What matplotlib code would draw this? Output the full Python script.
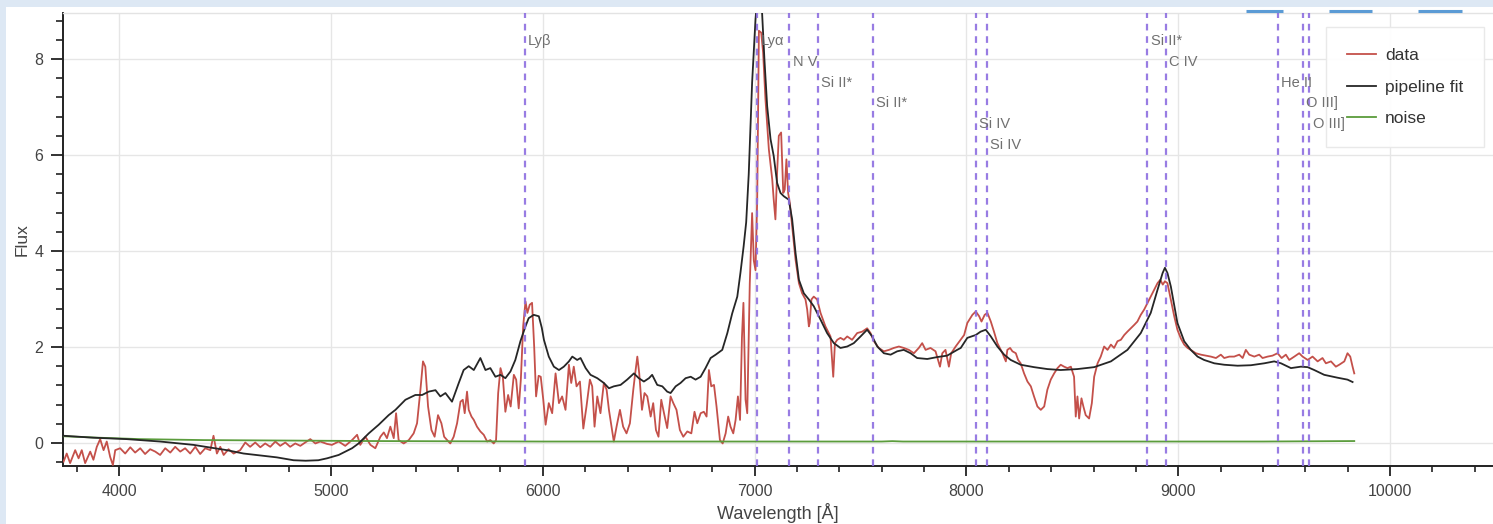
import matplotlib
matplotlib.use("Agg")
import matplotlib.pyplot as plt
from matplotlib.ticker import MultipleLocator
from matplotlib.patches import Rectangle
from matplotlib.lines import Line2D

plt.rcParams['font.family'] = ['Liberation Sans', 'DejaVu Sans']

# ---------------- data ----------------
data_wave = [3737, 3752, 3768, 3792, 3808, 3823, 3839, 3863, 3878, 3894, 3910, 3926, 3941, 3957, 3970, 3981,
             4004, 4028, 4052, 4075, 4099, 4122, 4146, 4170, 4193, 4217, 4241, 4264, 4288, 4311, 4335, 4359,
             4382, 4406, 4430, 4445, 4461, 4477, 4493, 4516, 4540, 4571, 4595, 4618, 4642, 4666, 4689, 4713,
             4737, 4760, 4784, 4807, 4831, 4855, 4878, 4902, 4926, 4949, 4981, 5004, 5036, 5067, 5099, 5123,
             5138, 5162, 5186, 5209, 5233, 5249, 5264, 5280, 5296, 5307, 5319, 5343, 5367, 5390, 5406, 5422,
             5434, 5445, 5458, 5474, 5489, 5505, 5521, 5534, 5548, 5563, 5579, 5595, 5611, 5622, 5631, 5642,
             5650, 5663, 5674, 5689, 5705, 5721, 5737, 5752, 5768, 5779, 5789, 5800, 5811, 5823, 5836, 5848,
             5863, 5874, 5886, 5896, 5907, 5918, 5927, 5938, 5949, 5959, 5968, 5980, 5990, 6002, 6013, 6028,
             6044, 6060, 6076, 6091, 6107, 6123, 6134, 6146, 6159, 6175, 6191, 6206, 6222, 6233, 6244, 6257,
             6272, 6288, 6301, 6312, 6324, 6335, 6348, 6364, 6379, 6395, 6411, 6427, 6436, 6446, 6455, 6468,
             6480, 6493, 6509, 6521, 6534, 6546, 6559, 6572, 6587, 6603, 6616, 6631, 6647, 6663, 6682, 6701,
             6716, 6729, 6745, 6760, 6773, 6784, 6795, 6808, 6820, 6836, 6849, 6863, 6875, 6886, 6899, 6910,
             6921, 6931, 6940, 6947, 6957, 6965, 6977, 6988, 6996, 7004, 7012, 7020, 7031, 7040, 7051, 7067,
             7083, 7090, 7098, 7106, 7114, 7125, 7135, 7142, 7150, 7158, 7166, 7177, 7193, 7209, 7224, 7240,
             7248, 7256, 7260, 7268, 7279, 7295, 7311, 7334, 7358, 7371, 7379, 7390, 7405, 7421, 7437, 7460,
             7484, 7508, 7531, 7547, 7563, 7586, 7610, 7634, 7657, 7681, 7704, 7728, 7752, 7775, 7791, 7807,
             7830, 7854, 7875, 7886, 7901, 7917, 7928, 7949, 7972, 7989, 8004, 8028, 8044, 8060, 8071, 8086,
             8099, 8115, 8130, 8146, 8170, 8186, 8193, 8206, 8217, 8233, 8244, 8256, 8272, 8288, 8304, 8319,
             8335, 8351, 8367, 8382, 8398, 8414, 8430, 8445, 8461, 8477, 8493, 8508, 8516, 8524, 8532, 8543,
             8552, 8563, 8579, 8592, 8603, 8619, 8634, 8650, 8666, 8682, 8697, 8713, 8729, 8745, 8760, 8776,
             8792, 8807, 8823, 8839, 8855, 8870, 8886, 8902, 8915, 8927, 8937, 8949, 8965, 8981, 8996, 9012,
             9028, 9044, 9059, 9083, 9107, 9130, 9154, 9178, 9201, 9217, 9241, 9264, 9288, 9304, 9319, 9335,
             9359, 9382, 9398, 9422, 9445, 9469, 9488, 9508, 9524, 9548, 9571, 9587, 9611, 9634, 9658, 9681,
             9697, 9721, 9744, 9760, 9784, 9799, 9812, 9823, 9831]
data_flux = [-0.39, -0.22, -0.42, -0.15, -0.32, -0.15, -0.42, -0.18, -0.35, -0.08, 0.08, -0.15, 0.03, -0.29, -0.46, -0.15,
             -0.11, -0.22, -0.09, -0.20, -0.11, -0.23, -0.13, -0.18, -0.25, -0.11, -0.20, -0.08, -0.18, -0.11, -0.22, -0.08,
             -0.23, -0.11, -0.15, 0.15, -0.22, -0.08, -0.25, -0.13, -0.22, -0.15, 0.01, -0.08, 0.01, -0.09, -0.01, -0.08,
             0.03, -0.06, 0.01, -0.08, -0.01, -0.06, 0.01, 0.08, -0.01, 0.03, -0.02, -0.04, 0.03, -0.06, 0.06, 0.17,
             -0.04, 0.13, -0.04, -0.11, 0.13, 0.22, 0.10, 0.34, 0.10, 0.62, 0.06, -0.01, 0.06, 0.20, 0.41, 1.11,
             1.70, 1.59, 0.76, 0.27, 0.13, 0.58, 0.41, 0.13, 0.06, -0.01, 0.13, 0.41, 0.86, 0.90, 0.62, 1.07,
             0.69, 0.55, 0.48, 0.34, 0.24, 0.17, 0.03, 0.06, -0.01, 0.06, 1.04, 1.56, 1.38, 0.65, 1.00, 0.76,
             1.42, 1.32, 0.72, 1.32, 2.43, 2.95, 2.71, 2.88, 2.92, 2.01, 0.97, 1.40, 1.38, 0.90, 0.38, 0.83,
             0.62, 1.45, 0.83, 0.97, 0.69, 1.63, 1.25, 1.59, 1.18, 1.28, 0.30, 0.76, 1.32, 1.18, 0.34, 0.97,
             0.62, 1.25, 1.11, 0.69, 0.34, 0.03, 0.34, 0.69, 0.34, 0.20, 0.41, 1.11, 1.45, 1.80, 1.45, 0.69,
             1.04, 0.97, 0.55, 0.83, 0.27, 0.13, 0.90, 0.62, 0.31, 0.97, 0.83, 0.69, 0.27, 0.13, 0.24, 0.20,
             0.65, 0.41, 0.62, 0.65, 0.55, 1.52, 1.18, 1.21, 0.76, 0.06, -0.01, 0.20, 0.55, 0.34, 0.20, 0.48,
             0.97, 0.48, 2.20, 2.92, 0.90, 0.62, 3.33, 4.79, 3.80, 3.60, 5.07, 8.59, 8.55, 8.13, 7.16, 6.12,
             5.49, 5.07, 4.66, 5.63, 6.40, 6.47, 5.21, 5.28, 5.91, 5.21, 5.00, 4.52, 3.82, 3.33, 3.12, 2.99,
             2.78, 2.43, 2.50, 2.99, 3.05, 2.99, 2.71, 2.43, 2.22, 1.38, 2.08, 2.15, 2.19, 2.15, 2.22, 2.15,
             2.29, 2.32, 2.39, 2.29, 2.12, 1.98, 1.91, 1.94, 1.98, 2.01, 1.98, 1.94, 1.87, 1.98, 2.08, 1.94,
             1.98, 1.91, 1.59, 1.87, 1.94, 1.59, 1.87, 2.01, 2.15, 2.25, 2.50, 2.67, 2.74, 2.64, 2.53, 2.67,
             2.71, 2.53, 2.32, 2.08, 1.87, 1.70, 1.94, 1.98, 1.91, 1.87, 1.73, 1.66, 1.45, 1.28, 1.18, 0.97,
             0.76, 0.69, 0.76, 1.11, 1.32, 1.45, 1.56, 1.63, 1.59, 1.56, 1.59, 1.38, 0.55, 0.97, 0.51, 0.93,
             0.76, 0.58, 0.51, 0.83, 1.38, 1.66, 1.80, 2.01, 1.94, 2.05, 1.98, 2.12, 2.15, 2.25, 2.32, 2.39,
             2.46, 2.53, 2.67, 2.78, 2.92, 3.05, 3.19, 3.33, 3.40, 3.30, 3.37, 3.33, 2.99, 2.64, 2.36, 2.18,
             2.05, 1.98, 1.94, 1.87, 1.84, 1.82, 1.80, 1.77, 1.84, 1.77, 1.80, 1.80, 1.84, 1.77, 1.94, 1.84,
             1.80, 1.84, 1.77, 1.80, 1.82, 1.87, 1.77, 1.84, 1.73, 1.80, 1.87, 1.80, 1.73, 1.80, 1.70, 1.77,
             1.66, 1.70, 1.59, 1.63, 1.70, 1.87, 1.80, 1.59, 1.45]

fit_wave = [3737, 3878, 4036, 4193, 4351, 4508, 4587, 4666, 4744, 4823, 4880, 4940, 4981, 5036, 5099, 5130,
            5178, 5225, 5272, 5304, 5351, 5398, 5430, 5461, 5493, 5516, 5540, 5571, 5603, 5626, 5650, 5674,
            5705, 5729, 5752, 5776, 5800, 5823, 5847, 5870, 5894, 5918, 5933, 5957, 5981, 5995, 6005, 6028,
            6052, 6076, 6099, 6123, 6139, 6162, 6178, 6202, 6225, 6257, 6288, 6312, 6335, 6367, 6398, 6430,
            6453, 6477, 6501, 6516, 6540, 6564, 6587, 6603, 6627, 6650, 6674, 6698, 6721, 6745, 6768, 6792,
            6816, 6847, 6871, 6894, 6918, 6933, 6948, 6960, 6972, 6988, 7004, 7015, 7027, 7035, 7046, 7059,
            7075, 7090, 7106, 7122, 7138, 7161, 7177, 7193, 7209, 7232, 7256, 7279, 7311, 7342, 7374, 7405,
            7437, 7468, 7500, 7531, 7555, 7579, 7610, 7642, 7673, 7704, 7736, 7767, 7815, 7862, 7909, 7956,
            7973, 8004, 8044, 8067, 8091, 8115, 8146, 8178, 8209, 8256, 8319, 8382, 8445, 8524, 8603, 8682,
            8760, 8823, 8870, 8902, 8926, 8937, 8949, 8965, 8996, 9028, 9059, 9091, 9122, 9170, 9217, 9280,
            9343, 9406, 9453, 9485, 9532, 9579, 9611, 9642, 9689, 9752, 9799, 9823]
fit_flux = [0.15, 0.11, 0.08, 0.03, -0.04, -0.15, -0.22, -0.26, -0.30, -0.36, -0.37, -0.36, -0.32, -0.25, -0.11, -0.01,
            0.20, 0.38, 0.58, 0.69, 0.90, 1.00, 1.00, 1.07, 1.10, 0.97, 1.04, 0.86, 1.25, 1.52, 1.60, 1.52,
            1.77, 1.52, 1.56, 1.38, 1.42, 1.35, 1.49, 1.73, 2.12, 2.43, 2.60, 2.67, 2.64, 2.40, 2.15, 1.80,
            1.59, 1.52, 1.59, 1.70, 1.80, 1.73, 1.77, 1.56, 1.42, 1.35, 1.25, 1.14, 1.18, 1.21, 1.32, 1.45,
            1.35, 1.28, 1.35, 1.42, 1.21, 1.18, 1.07, 1.04, 1.18, 1.25, 1.35, 1.38, 1.32, 1.38, 1.56, 1.77,
            1.84, 1.94, 2.29, 2.70, 3.05, 3.55, 4.10, 4.60, 5.60, 7.51, 8.83, 9.40, 9.30, 8.97, 8.00, 7.02,
            6.33, 5.98, 5.42, 5.21, 5.14, 5.07, 4.66, 3.96, 3.40, 3.12, 2.99, 2.85, 2.57, 2.29, 2.08, 1.98,
            2.01, 2.08, 2.22, 2.36, 2.22, 2.01, 1.87, 1.84, 1.91, 1.94, 1.87, 1.77, 1.75, 1.79, 1.82, 1.94,
            1.98, 2.19, 2.25, 2.32, 2.36, 2.22, 2.01, 1.84, 1.73, 1.63, 1.58, 1.54, 1.52, 1.54, 1.58, 1.70,
            1.94, 2.29, 2.71, 3.19, 3.54, 3.65, 3.54, 3.26, 2.50, 2.12, 1.94, 1.80, 1.73, 1.66, 1.63, 1.61,
            1.62, 1.66, 1.70, 1.66, 1.56, 1.59, 1.58, 1.52, 1.42, 1.36, 1.32, 1.27]

noise_wave = [3737, 3900, 4100, 4400, 4800, 5200, 6000, 7000, 7600, 7650, 7700, 8500, 9400, 9831]
noise_flux = [0.14, 0.11, 0.08, 0.06, 0.05, 0.04, 0.03, 0.03, 0.03, 0.038, 0.03, 0.03, 0.03, 0.04]

line_waves = [5914, 7013, 7164, 7299, 7557, 8045, 8097, 8853, 8942, 9470, 9588, 9618]
line_names = ['Lyβ', 'Lyα', 'N V', 'Si II*', 'Si II*', 'Si IV', 'Si IV',
              'Si II*', 'C IV', 'He II', 'O III]', 'O III]']
label_levels = [0, 0, 1, 2, 3, 4, 5, 0, 1, 2, 3, 4]

# ---------------- figure ----------------
W, H = 1493, 524
fig = plt.figure(figsize=(W / 100, H / 100), dpi=100, facecolor='white')
band = '#dde8f4'
fig.patches.append(Rectangle((0, 1 - 7 / H), 1, 7 / H, transform=fig.transFigure,
                             facecolor=band, edgecolor='none', zorder=-5))
fig.patches.append(Rectangle((0, 0), 6 / W, 1, transform=fig.transFigure,
                             facecolor=band, edgecolor='none', zorder=-5))

ax_left, ax_right, ax_top, ax_bot = 62.7, 1493, 13, 466
ax = fig.add_axes([ax_left / W, (H - ax_bot) / H, (ax_right - ax_left) / W, (ax_bot - ax_top) / H])

ax.set_xlim(3733, 10486)
ax.set_ylim(-0.48, 8.96)

ax.plot(data_wave, data_flux, color='#c4504a', lw=1.3, label='data', zorder=3)
ax.plot(fit_wave, fit_flux, color='#262626', lw=1.3, label='pipeline fit', zorder=4)
ax.plot(noise_wave, noise_flux, color='#5b9c3c', lw=1.3, label='noise', zorder=3)

top_level_y = 8.38
level_step = 0.435
for w, name, lev in zip(line_waves, line_names, label_levels):
    ax.axvline(w, color='#8d6ee0', lw=1.6, dashes=(3.0, 2.6), alpha=0.9, zorder=5)
    ax.annotate(name, xy=(w, top_level_y - lev * level_step), xytext=(2.5, 0),
                textcoords='offset points', ha='left', va='center',
                fontsize=10.5, color='#707070', zorder=12)

ax.xaxis.set_major_locator(MultipleLocator(1000))
ax.xaxis.set_minor_locator(MultipleLocator(200))
ax.yaxis.set_major_locator(MultipleLocator(2))
ax.yaxis.set_minor_locator(MultipleLocator(0.4))

ax.grid(True, which='major', color='#e6e6e6', lw=1.0, zorder=0)
ax.set_axisbelow(True)

for s in ['left', 'bottom']:
    ax.spines[s].set_color('#222222')
    ax.spines[s].set_linewidth(1.4)
ax.spines['top'].set_color('#e3e3e3')
ax.spines['top'].set_linewidth(1.0)
ax.spines['right'].set_visible(False)

ax.tick_params(axis='both', which='major', colors='#222222', labelcolor='#444444',
               labelsize=11.5, width=1.3)
ax.tick_params(axis='x', which='major', length=7, pad=6)
ax.tick_params(axis='y', which='major', length=9, pad=5)
ax.tick_params(axis='x', which='minor', length=4.5, width=1.2, colors='#222222')
ax.tick_params(axis='y', which='minor', length=5, width=1.2, colors='#222222')

ax.set_xlabel('Wavelength [Å]', fontsize=13, color='#444444', labelpad=3)
ax.set_ylabel('Flux', fontsize=12.5, color='#444444', labelpad=3)

leg = ax.legend(loc='upper right', bbox_to_anchor=(0.9937, 0.969), fontsize=12.5,
                frameon=True, fancybox=False, edgecolor='#e8e8e8', facecolor='white',
                framealpha=0.95, handlelength=1.7, handletextpad=0.5, labelspacing=0.95,
                borderpad=1.2, borderaxespad=0)
for t in leg.get_texts():
    t.set_color('#333333')
leg.set_zorder(8)

# toolbar-like marks at the very top
for x0, x1 in [(1246, 1283), (1329, 1372), (1418, 1462)]:
    fig.add_artist(Line2D([x0 / W, x1 / W], [1 - 11 / H, 1 - 11 / H], transform=fig.transFigure,
                          color='#5b9bd5', lw=2.2, solid_capstyle='butt'))

fig.savefig('out.png', dpi=100, facecolor='white')
